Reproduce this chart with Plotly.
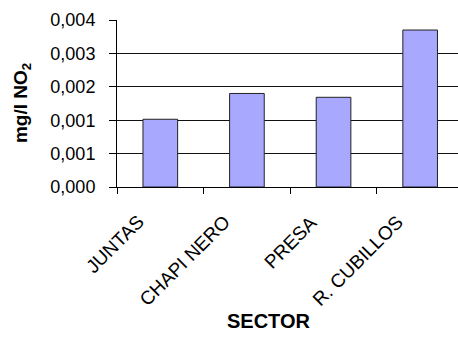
import plotly.graph_objects as go

categories = ["JUNTAS", "CHAPI NERO", "PRESA", "R. CUBILLOS"]
values = [0.00142, 0.00196, 0.00188, 0.00329]
y_tickvals = [0.0, 0.0007, 0.0014, 0.0021, 0.0028, 0.0035]
y_ticktext = ["0,000", "0,001", "0,001", "0,002", "0,003", "0,004"]

font_family = "Arial, Liberation Sans, sans-serif"

fig = go.Figure()
fig.add_trace(go.Bar(
    x=categories, y=values, width=0.4,
    marker=dict(color="#A8A8FF", line=dict(color="#222222", width=1)),
))

annotations = [
    dict(text=c, x=c, y=0, xref="x", yref="y", xanchor="right", yanchor="top",
         xshift=-10, yshift=-22, textangle=-45, showarrow=False,
         font=dict(family=font_family, size=19, color="black"))
    for c in categories
]
annotations += [
    dict(text="<b>mg/l NO<sub>2</sub></b>", xref="paper", yref="paper",
         x=-0.28, y=0.5, xanchor="center", yanchor="middle",
         textangle=-90, showarrow=False,
         font=dict(family=font_family, size=19, color="black")),
    dict(text="<b>SECTOR</b>", xref="paper", yref="paper",
         x=(269 - 117) / 341, y=-0.80, xanchor="center", yanchor="middle",
         showarrow=False,
         font=dict(family=font_family, size=20, color="black")),
]

fig.update_layout(
    width=458, height=338,
    margin=dict(l=117, r=0, t=20, b=151),
    paper_bgcolor="white", plot_bgcolor="white",
    showlegend=False,
    font=dict(family=font_family, size=18, color="black"),
    xaxis=dict(
        range=[-0.5, 3.437], showgrid=False, showticklabels=False,
        showline=True, linecolor="black", linewidth=1,
        ticks="outside", ticklen=6, tickcolor="black", tickson="boundaries",
    ),
    yaxis=dict(
        range=[0, 0.0035], tickvals=y_tickvals, ticktext=y_ticktext,
        showgrid=True, gridcolor="#111111", gridwidth=1,
        showline=True, linecolor="black", linewidth=1,
        ticks="outside", ticklen=7, tickcolor="black",
        ticklabelstandoff=10, zeroline=False,
        tickfont=dict(family=font_family, size=18, color="black"),
    ),
    annotations=annotations,
)

fig.write_html("out.html")
